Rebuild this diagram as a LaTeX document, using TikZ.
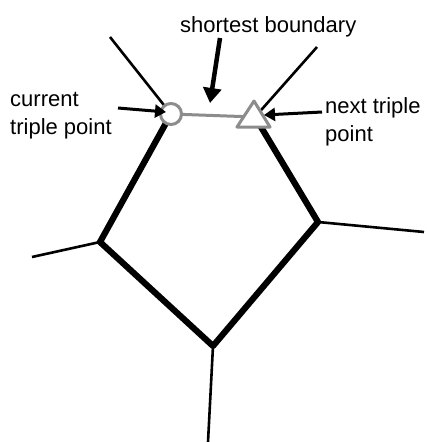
\documentclass[tikz,border=0pt]{standalone}
\usepackage{fontspec}
\setmainfont{Liberation Sans}
\usetikzlibrary{arrows.meta}
\begin{document}
\begin{tikzpicture}[x=1pt,y=-1pt,
  thinedge/.style={line width=2.6pt},
  thickedge/.style={line width=6.2pt,line join=round},
  grayline/.style={draw=black!45,line width=3pt},
  bigarrow/.style={line width=4.5pt,-{Triangle[width=18pt,length=15pt]}},
  smallarrow/.style={line width=3pt,-{Triangle[width=13pt,length=11pt]}},
  lbl/.style={font=\fontsize{22}{28}\selectfont,inner sep=0pt,align=left}]
\path[fill=white,use as bounding box] (0,0) rectangle (426,442);
% triple points
\coordinate (C) at (171,114);
\coordinate (N) at (255,117);
\coordinate (L) at (100,242);
\coordinate (R) at (318,222);
\coordinate (B) at (213,346);
% free ends
\coordinate (cUL) at (110,37);
\coordinate (nUR) at (317,47);
\coordinate (lW) at (32,257);
\coordinate (rE) at (424,232);
\coordinate (bS) at (208,442);
% thin boundaries
\draw[thinedge] (cUL) -- (C);
\draw[thinedge] (nUR) -- (N);
\draw[thinedge] (L) -- (lW);
\draw[thinedge] (R) -- (rE);
\draw[thinedge] (B) -- (bS);
% thick polygon
\draw[thickedge] (C) -- (L) -- (B) -- (R) -- (N);
% shortest boundary
\draw[grayline] (C) -- (N);
\node[circle,draw=black!45,line width=3pt,fill=white,minimum size=21pt,inner sep=0pt] (cp) at (C) {};
\draw[grayline,fill=white,line join=round] (254,101) -- (237,127) -- (270,127) -- cycle;
\node[inner sep=0pt] (np) at (N) {};
% labels
\node[lbl,anchor=base west] (tsb) at (180,32) {shortest boundary};
\node[lbl,anchor=base west] (tcur) at (10,134) {current\\triple point};
\node[lbl,anchor=base west] (tnext) at (325,141) {next triple\\point};
% arrows
\coordinate (a1s) at (220,38);
\coordinate (a1e) at (210,103);
\draw[bigarrow] (a1s) -- (a1e);
\coordinate (a2s) at (118,108);
\coordinate (a2e) at (166,112);
\draw[smallarrow] (a2s) -- (a2e);
\coordinate (a3s) at (322,112);
\coordinate (a3e) at (264,115);
\draw[smallarrow] (a3s) -- (a3e);
\end{tikzpicture}
\end{document}
